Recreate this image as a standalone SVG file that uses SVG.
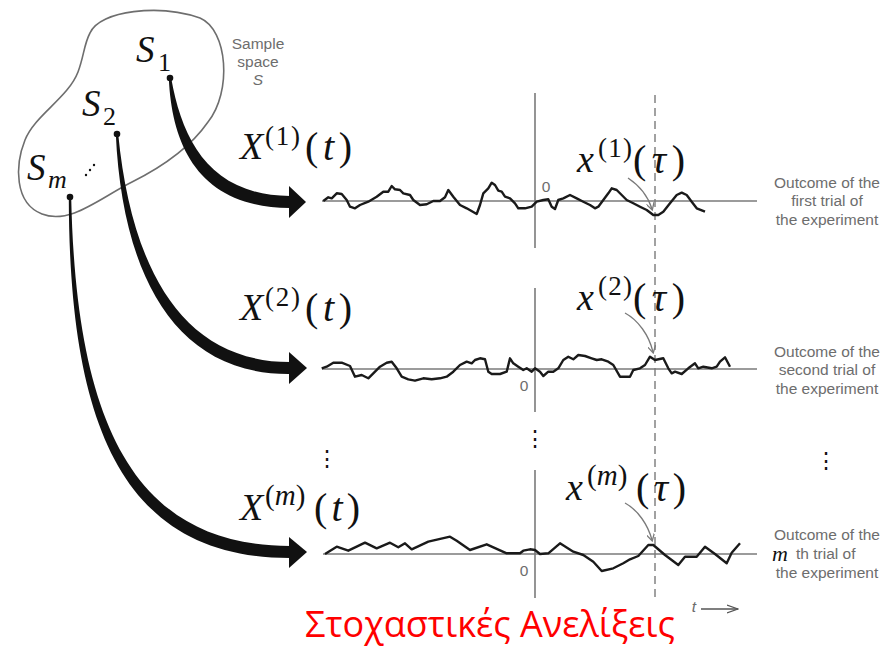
<svg xmlns="http://www.w3.org/2000/svg" width="893" height="649" viewBox="0 0 893 649">
<defs>
<style>
.math{font-family:"Liberation Serif","DejaVu Serif",serif;font-style:italic;fill:#111}
.mathn{font-family:"Liberation Serif","DejaVu Serif",serif;fill:#111}
.gray{font-family:"Liberation Sans",Arial,sans-serif;fill:#6d6d6d;font-size:15.5px;text-anchor:middle}
.axis{stroke:#7a7a7a;stroke-width:1.6;fill:none}
.dash{stroke:#7a7a7a;stroke-width:1.4;fill:none;stroke-dasharray:8 5}
.wave{stroke:#1a1a1a;stroke-width:2.4;fill:none;stroke-linejoin:round}
.ptr{stroke:#7a7a7a;stroke-width:1.3;fill:none}
.big{fill:#111}
.dot{fill:#111}
</style>
<marker id="ptrhead" markerWidth="8" markerHeight="8" refX="6" refY="4" orient="auto" markerUnits="userSpaceOnUse">
<path d="M0,0 L7,4 L0,8" fill="none" stroke="#7a7a7a" stroke-width="1.3"/>
</marker>
<marker id="tarrow" markerWidth="12" markerHeight="10" refX="11" refY="5" orient="auto" markerUnits="userSpaceOnUse">
<path d="M0,1 L11,5 L0,9" fill="none" stroke="#555" stroke-width="1.3"/>
</marker>
</defs>

<g id="sample-space">
<path d="M90,33 C100,10 160,4 200,18 C228,30 232,92 208,122 C190,148 160,168 132,182 C100,198 70,225 42,214 C14,203 15,165 25,140 C35,115 68,98 78,72 C84,56 84,44 90,33 Z" fill="none" stroke="#6e6e6e" stroke-width="1.6"/>
<text class="gray" x="258" y="49" font-size="14.5">Sample</text>
<text class="gray" x="258" y="67" font-size="14.5">space</text>
<text class="gray" x="258" y="85" font-size="14.5" font-style="italic">S</text>
</g>

<g id="S1">
<text class="math" x="136" y="62" font-size="37">S</text>
<text class="mathn" x="158" y="71" font-size="26">1</text>
<circle class="dot" cx="170" cy="78" r="3.3"/>
</g>
<g id="S2">
<text class="math" x="82" y="116" font-size="37">S</text>
<text class="mathn" x="103" y="125" font-size="26">2</text>
<circle class="dot" cx="117" cy="134" r="3.3"/>
</g>
<g id="Sm">
<text class="math" x="27" y="180" font-size="37">S</text>
<text class="math" x="48" y="188" font-size="26">m</text>
<circle class="dot" cx="70" cy="197" r="3.3"/>
<circle class="dot" cx="86" cy="175" r="1.2"/>
<circle class="dot" cx="90" cy="170" r="1.2"/>
<circle class="dot" cx="94" cy="165" r="1.2"/>
</g>

<g id="connectors">
<path class="big" d="M168.8,78 C172,150 202,207.5 290,208 L290,196 C210,195.5 182,140 171.2,78 Z"/>
<polygon class="big" points="289,186 306,202 289,218"/>
<path class="big" d="M115.8,134 C122,270 172,375 290,374 L290,362 C180,362 131,265 118.2,134 Z"/>
<polygon class="big" points="289,352 307,368 289,384"/>
<path class="big" d="M68.8,197 C69,430 125,558 290,558 L290,546 C135,546 76,425 71.2,197 Z"/>
<polygon class="big" points="289,537 307,552 289,568"/>
</g>

<g id="labels-X">
<text class="math" x="240" y="159" font-size="38">X</text>
<text class="mathn" x="265" y="145" font-size="27" textLength="35" lengthAdjust="spacing">(1)</text>
<text class="mathn" x="305" y="160" font-size="40" textLength="47" lengthAdjust="spacing">(<tspan font-style="italic">t</tspan>)</text>
<text class="math" x="240" y="320" font-size="38">X</text>
<text class="mathn" x="265" y="306" font-size="27" textLength="35" lengthAdjust="spacing">(2)</text>
<text class="mathn" x="305" y="321" font-size="40" textLength="47" lengthAdjust="spacing">(<tspan font-style="italic">t</tspan>)</text>
<text class="math" x="240" y="520" font-size="38">X</text>
<text class="mathn" x="265" y="505" font-size="29">(<tspan font-style="italic">m</tspan>)</text>
<text class="mathn" x="314" y="521" font-size="40" textLength="46" lengthAdjust="spacing">(<tspan font-style="italic">t</tspan>)</text>
</g>

<g id="axes">
<line class="axis" x1="535" y1="93" x2="535" y2="248"/>
<line class="axis" x1="535" y1="288" x2="535" y2="412"/>
<line class="axis" x1="535" y1="470" x2="535" y2="598"/>
<line class="dash" x1="655" y1="95" x2="655" y2="598"/>
<line class="axis" x1="322" y1="201" x2="757" y2="201"/>
<line class="axis" x1="322" y1="369" x2="757" y2="369"/>
<line class="axis" x1="323" y1="554" x2="757" y2="554"/>
<text class="gray" x="546" y="192" font-size="16">0</text>
<text class="gray" x="524" y="391" font-size="16">0</text>
<text class="gray" x="524" y="576" font-size="16">0</text>
<text class="mathn" x="327" y="466" font-size="22" text-anchor="middle">⋮</text>
<text class="mathn" x="535" y="446" font-size="22" text-anchor="middle">⋮</text>
<text class="mathn" x="826" y="468" font-size="22" text-anchor="middle">⋮</text>
<text class="gray" x="694" y="612" font-style="italic" font-size="12">t</text>
<line x1="701" y1="609" x2="738" y2="609" stroke="#555" stroke-width="1.3" marker-end="url(#tarrow)"/>
</g>

<g id="trial-1">
<polyline class="wave" points="323.3,201 328.3,197.3 331.7,198.3 336.7,193.3 341.7,194 346.7,200 350,206.7 355,208.3 360,205 368.3,201.7 376.7,196.7 383.3,191.7 388.3,191.7 391.7,186 395,189.3 400,190 403.3,193.3 410,195 413.3,200 420,205 426.7,204.3 433.3,201 440,201 445,197.3 448.3,190 453.3,196.7 460,205 466.7,208.3 476.7,214 480,205 483.3,193.3 488.3,188.3 491.7,182.7 495,185 498.3,190.7 501.7,191.7 505,196.7 510,198.3 515,203.3 518.3,208.3 525,208.3 531.7,206.7 536.7,201.7 543.3,200 548.3,199.3 551.7,206.7 555,209 558.3,200 563.3,198.3 570,195 576.7,198.3 583.3,201.7 590,205 595,208.3 598.3,206.7 603.3,200 608.3,193.3 611.7,188.3 616.7,190 621.7,195 626.7,200 633.3,203.3 640,206.7 646.7,210 653.3,215 658.3,215 663.3,211.7 670,203.3 676.7,195 681.7,192.7 686.7,195 691.7,201.7 696.7,208.3 705,211.7"/>
<text class="math" x="577" y="172" font-size="38">x</text>
<text class="mathn" x="598" y="157" font-size="27" textLength="34" lengthAdjust="spacing">(1)</text>
<text class="mathn" x="633" y="173" font-size="40" textLength="52" lengthAdjust="spacing">(<tspan font-style="italic">τ</tspan>)</text>
<path class="ptr" d="M628,178 C640,186 648,196 652,209" marker-end="url(#ptrhead)"/>
<text class="gray" x="827" y="188">Outcome of the</text>
<text class="gray" x="827" y="206">first trial of</text>
<text class="gray" x="827" y="225">the experiment</text>
</g>

<g id="trial-2">
<polyline class="wave" points="321.7,368.3 326.7,366.7 333.3,362.7 341.7,362.7 350,366 355,376.7 361.7,375 368.3,378.3 373.3,373.3 380,366.7 386.7,362.7 391.7,361.7 396.7,368.3 401.7,376.7 408.3,379.3 415,380.7 423.3,378.3 431.7,379.3 440,378.3 446.7,376.7 453.3,371.7 460,365 466.7,361.7 471.7,363.3 475,360 480,358.3 485,359.3 488.3,371.7 491.7,374 500,374 506.7,371.7 510,358.3 513.3,363.3 518.3,366.7 523.3,370 526.7,368.3 531.7,371.7 535,368.3 540,371.7 543.3,376 548.3,371.7 553.3,371.7 558.3,368.3 563.3,360 568.3,356.7 573.3,359.3 578.3,355 585,356 591.7,358.3 596.7,360 601.7,359.3 608.3,361.7 613.3,365 620,376.7 630,376.7 633.3,370 640,368.3 645,365 650,356.7 655,360 663.3,358.3 668.3,368.3 671.7,373.3 675,371.7 681.7,374 688.3,368.3 695,363.3 698.3,368.3 703.3,366.7 711.7,368.3 716.7,366.7 720,361.7 725,357.3 730,366.7"/>
<text class="math" x="577" y="310" font-size="38">x</text>
<text class="mathn" x="598" y="295" font-size="27" textLength="34" lengthAdjust="spacing">(2)</text>
<text class="mathn" x="633" y="311" font-size="40" textLength="52" lengthAdjust="spacing">(<tspan font-style="italic">τ</tspan>)</text>
<path class="ptr" d="M625,313 C638,320 649,335 653,352" marker-end="url(#ptrhead)"/>
<text class="gray" x="827" y="357">Outcome of the</text>
<text class="gray" x="827" y="375">second trial of</text>
<text class="gray" x="827" y="394">the experiment</text>
</g>

<g id="trial-m">
<polyline class="wave" points="325,554 336.7,546.7 348.3,550.7 365,542.7 376.7,548.3 390,542.7 398.3,547.3 405,543.3 411.7,549.3 428.3,541.7 450,536.7 456.7,540.7 470,550 486.7,544.3 506.7,553.3 520,553.3 523.3,550.7 530,549.3 535,550 540,554 548.3,553.3 560,543.3 573.3,551.7 583.3,555 593.3,561.7 601.7,571 613.3,568.3 623.3,563.3 630,559.3 638.3,556 648.3,545 653.3,545 665,555 678.3,565 685,556.7 696.7,556.7 705,546.7 715,554 726.7,563.3 731.7,552.7 740,543.3"/>
<text class="math" x="566" y="500" font-size="38">x</text>
<text class="mathn" x="587" y="485" font-size="29">(<tspan font-style="italic">m</tspan>)</text>
<text class="mathn" x="636" y="501" font-size="40" textLength="50" lengthAdjust="spacing">(<tspan font-style="italic">τ</tspan>)</text>
<path class="ptr" d="M625,503 C638,510 648,525 652,540" marker-end="url(#ptrhead)"/>
<text class="gray" x="827" y="540">Outcome of the</text>
<text class="math" x="772" y="561" font-size="22">m</text>
<text class="gray" x="796" y="559" text-anchor="start" style="text-anchor:start">th trial of</text>
<text class="gray" x="827" y="578">the experiment</text>
</g>

<g id="title">
<text x="305" y="637" font-family="'Open Sans','Noto Sans',sans-serif" font-size="36" fill="#ff0000" textLength="370" lengthAdjust="spacingAndGlyphs">Στοχαστικές Ανελίξεις</text>
</g>
</svg>
